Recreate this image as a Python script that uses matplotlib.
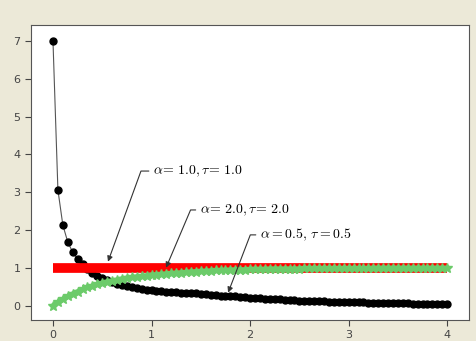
import numpy as np
import matplotlib
matplotlib.use("Agg")
import matplotlib.pyplot as plt

# time grid, 0 .. 4 in steps of 0.05
t = np.linspace(0, 4, 81)

alpha_half = [
    7.00, 3.06, 2.13, 1.68, 1.41, 1.23, 1.09, 0.97, 0.87, 0.79,
    0.72, 0.67, 0.62, 0.58, 0.54, 0.51, 0.48, 0.46, 0.44, 0.42,
    0.40, 0.39, 0.38, 0.37, 0.36, 0.35, 0.34, 0.33, 0.33, 0.32,
    0.31, 0.30, 0.28, 0.27, 0.26, 0.25, 0.24, 0.24, 0.23, 0.22,
    0.21, 0.20, 0.19, 0.18, 0.17, 0.16, 0.16, 0.15, 0.15, 0.14,
    0.13, 0.13, 0.12, 0.12, 0.11, 0.11, 0.10, 0.10, 0.09, 0.09,
    0.09, 0.08, 0.08, 0.08, 0.07, 0.07, 0.07, 0.07, 0.06, 0.06,
    0.06, 0.06, 0.06, 0.05, 0.05, 0.05, 0.05, 0.05, 0.05, 0.05,
    0.05,
]
alpha_one = [1.0] * 81
alpha_two = [
    0.00, 0.09, 0.17, 0.24, 0.31, 0.37, 0.43, 0.48, 0.52, 0.56,
    0.60, 0.63, 0.66, 0.68, 0.71, 0.73, 0.75, 0.76, 0.78, 0.79,
    0.81, 0.82, 0.83, 0.84, 0.85, 0.86, 0.87, 0.88, 0.89, 0.90,
    0.91, 0.91, 0.92, 0.93, 0.93, 0.94, 0.94, 0.95, 0.95, 0.95,
    0.96, 0.96, 0.96, 0.96, 0.97, 0.97, 0.97, 0.97, 0.97, 0.97,
    0.97, 0.98, 0.98, 0.98, 0.98, 0.98, 0.98, 0.98, 0.98, 0.98,
    0.98, 0.98, 0.98, 0.98, 0.98, 0.99, 0.99, 0.99, 0.99, 0.99,
    0.99, 0.99, 0.99, 0.99, 0.99, 0.99, 0.99, 0.99, 0.99, 0.99,
    0.99,
]

labels = [r'$\alpha\!=\,1.0,\tau\!=\,1.0$',
          r'$\alpha\!=\,2.0,\tau\!=\,2.0$',
          r'$\alpha = 0.5,\,\tau = 0.5$']

plt.rcParams['mathtext.fontset'] = 'cm'

fig = plt.figure(figsize=(4.77, 3.41), dpi=100, facecolor='#ECE9D8')
ax = fig.add_axes([0.065, 0.062, 0.918, 0.865])
ax.set_facecolor('white')

ax.plot(t, alpha_half, color='#555555', lw=0.8, marker='o', ms=5,
        mfc='black', mec='black', zorder=2)
ax.plot(t, alpha_one, color='#FF0000', lw=7, solid_capstyle='butt', zorder=3)
ax.plot(t, alpha_two, color='#6CCB6A', lw=3.5, marker='*', ms=7,
        mec='#6CCB6A', zorder=4)

arrow = dict(arrowstyle='-|>', color='#333333', lw=0.8, mutation_scale=8,
             shrinkA=1, shrinkB=0, relpos=(0, 0.5))
ax.annotate(labels[0], xy=(0.558, 1.16), xytext=(1.015, 3.56),
            ha='left', va='center', fontsize=10,
            arrowprops=dict(arrow, connectionstyle='angle,angleA=0,angleB=70,rad=0'),
            zorder=6)
ax.annotate(labels[1], xy=(1.147, 1.0), xytext=(1.49, 2.53),
            ha='left', va='center', fontsize=10,
            arrowprops=dict(arrow, connectionstyle='angle,angleA=0,angleB=67,rad=0'),
            zorder=6)
ax.annotate(labels[2], xy=(1.777, 0.34), xytext=(2.10, 1.87),
            ha='left', va='center', fontsize=10,
            arrowprops=dict(arrow, connectionstyle='angle,angleA=0,angleB=69,rad=0'),
            zorder=6)

ax.set_xlim(-0.223, 4.22)
ax.set_ylim(-0.38, 7.43)
ax.set_xticks([0, 1, 2, 3, 4])
ax.set_yticks(range(8))
ax.tick_params(direction='out', length=4, width=0.8, colors='#444444',
               labelsize=8, top=False, right=False)
for s in ax.spines.values():
    s.set_color('#555555')
    s.set_linewidth(0.8)

fig.savefig('out.png', dpi=100, facecolor=fig.get_facecolor())
